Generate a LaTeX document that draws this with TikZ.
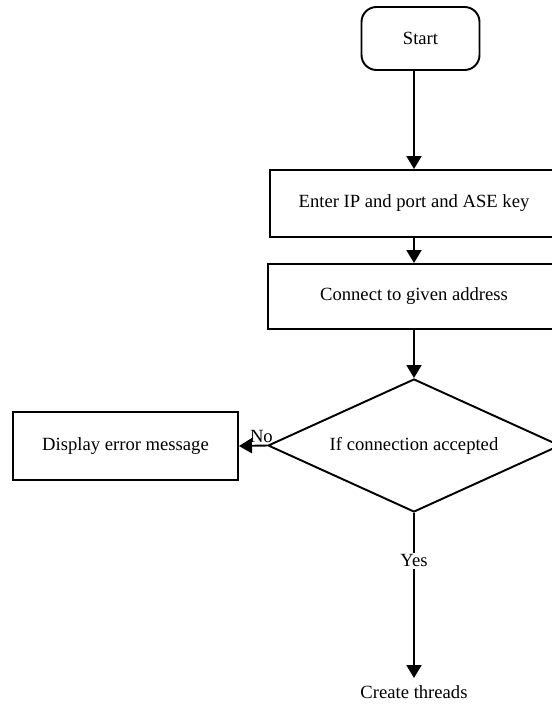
\documentclass[tikz,border=0pt]{standalone}
\usepackage{fontspec}
\setmainfont{Liberation Serif}
\usetikzlibrary{shapes.geometric,arrows.meta}

\begin{document}
\begin{tikzpicture}[
        font=\fontsize{10.6}{12.7}\selectfont,
        line width=1.1pt,
        >={Triangle[width=0.3cm,length=0.26cm]},
        box/.style={draw, rectangle, align=center},
        decision/.style={draw, diamond, aspect=2.2, inner sep=0pt, minimum width=5.84cm, minimum height=2.66cm}
    ]
        \useasboundingbox (0,0) rectangle (11.04,-14.12);
        \clip (0,0) rectangle (11.04,-14.12);

        \node[box, rounded corners=0.3cm, minimum width=2.36cm, minimum height=1.26cm] (start) at (8.41, -0.77) {Start};
        \node[box, minimum width=5.76cm, minimum height=1.34cm] (enter) at (8.28, -4.07) {Enter IP and port and ASE key};
        \node[box, minimum width=5.84cm, minimum height=1.3cm] (connect) at (8.28, -5.93) {Connect to given address};
        \node[decision] (accepted) at (8.28, -8.91) {If connection accepted};
        \node[box, minimum width=4.5cm, minimum height=1.36cm] (error) at (2.51, -8.92) {Display error message};
        \node[anchor=north, inner sep=4pt] (threads) at (8.28, -13.56) {Create threads};

        \draw[->] (start.south -| enter.north) -- (enter.north);
        \draw[->] (enter) -- (connect);
        \draw[->] (connect) -- (accepted);
        \draw[->] (accepted.west) -- node[pos=0.2, above, inner sep=1pt] {No} (error.east);
        \draw[->] (accepted) -- node[pos=0.29, fill=white, inner sep=1pt] {Yes} (threads);
    \end{tikzpicture}
\end{document}
